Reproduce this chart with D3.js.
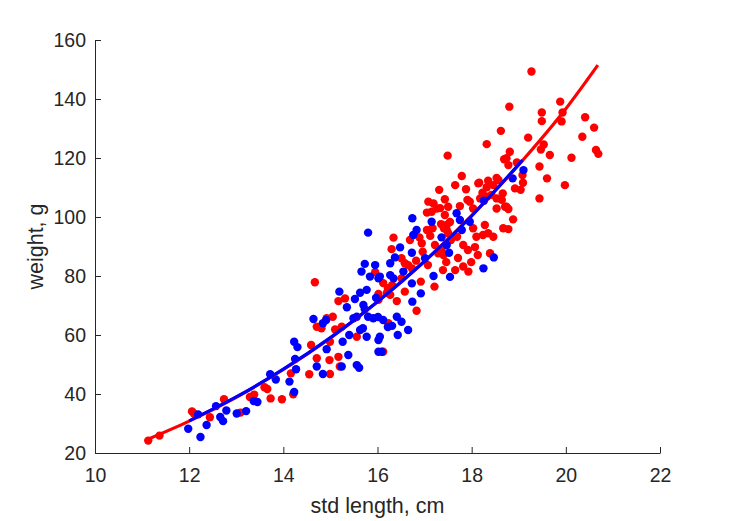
<!DOCTYPE html>
<html>
<head>
<meta charset="utf-8">
<script src="https://cdn.jsdelivr.net/npm/d3@7"></script>
<style>
  html, body { margin: 0; padding: 0; background: #fff; }
  svg { display: block; }
  text { font-family: "Liberation Sans", Arial, Helvetica, sans-serif; fill: #262626; }
</style>
</head>
<body>
<div id="chart"></div>
<script>
// ---- data (length in cm, weight in g) ----
const xTicks = [10, 12, 14, 16, 18, 20, 22];
const yTicks = [20, 40, 60, 80, 100, 120, 140, 160];
const xLabel = "std length, cm";
const yLabel = "weight, g";

const redPoints = [
  [11.13,24.2],[11.37,25.9],[12.06,34.1],[12.10,33.4],[12.44,32.1],[12.74,38.2],[13.09,33.7],[13.29,39.0],[13.38,39.8],[13.60,42.3],[13.66,41.7],[13.73,38.5],[13.97,38.2],[14.16,47.0],[14.21,39.9],
  [14.55,46.7],[14.59,56.6],[14.67,77.9],[14.71,62.8],[14.81,62.3],[14.92,65.7],[15.05,66.2],[15.10,61.9],[15.24,62.8],[15.17,71.5],[15.31,72.4],[15.56,59.4],[14.99,57.7],[14.71,52.1],[14.98,51.5],[15.17,52.6],[15.20,49.3],[14.99,46.8],
  [15.95,81.3],[16.02,73.9],[16.12,54.3],[16.41,71.5],[16.58,74.7],[16.83,68.2],[16.51,79.2],[16.92,78.1],[17.21,76.4],[16.12,77.6],[16.22,75.9],[16.31,76.9],[16.23,64.0],[16.02,71.9],[16.20,74.3],[16.27,73.6],
  [16.30,89.1],[16.34,93.0],[16.51,86.0],[16.58,84.3],[16.65,83.7],[16.82,85.2],[16.73,82.6],[16.69,92.2],[16.89,93.1],[16.94,91.1],[16.96,88.2],[17.05,95.6],[17.12,93.6],[17.22,90.5],[17.29,87.7],[17.07,83.7],
  [17.31,109.2],[17.49,120.8],[17.79,113.9],[17.65,110.8],[17.88,109.4],[17.08,105.2],[17.19,104.6],[17.26,102.9],[17.15,101.8],[17.05,101.5],[17.43,106.0],[17.50,103.5],[17.33,103.0],[17.75,103.7],[17.91,105.8],[17.96,105.2],[18.03,102.9],
  [18.16,111.6],[18.35,112.3],[18.57,112.5],[18.32,110.1],[18.46,110.8],[18.23,108.2],[18.33,106.9],[18.18,106.3],[18.42,107.5],[18.53,106.3],[18.64,105.8],[18.71,103.5],[18.78,102.7],[18.53,102.9],[18.88,99.2],[18.67,96.2],[18.78,95.9],[18.46,93.3],[18.28,97.3],[18.35,94.5],[18.03,96.2],[18.10,93.3],[18.24,93.9],[18.39,87.7],[17.69,93.3],
  [17.43,100.7],[17.54,98.3],[17.35,97.6],[17.47,95.6],[17.17,96.2],[17.41,96.2],[17.47,97.3],[17.50,94.5],[17.36,88.8],[17.40,87.1],[17.56,92.2],
  [17.82,90.5],[17.92,88.8],[18.07,89.8],[18.13,87.1],[17.93,81.5],[17.82,83.2],[17.99,84.7],[17.71,86.1],[17.65,82.0],[17.46,84.7],[17.39,82.0],
  [18.62,129.2],[18.32,124.7],[18.81,122.1],[18.74,119.9],[18.96,118.5],[18.78,117.6],[18.69,119.6],[19.27,149.3],[18.80,137.4],[19.88,139.1],[19.49,135.4],[19.49,132.5],[19.93,135.4],[19.91,132.4],[20.41,133.8],[20.60,130.3],[19.20,126.9],[20.35,127.2],[19.53,124.6],[19.47,122.9],[19.66,121.0],[20.64,122.7],[20.69,121.4],[20.12,120.1],[19.44,117.1],[19.08,114.2],[19.09,111.6],[19.04,109.2],[19.60,113.1],[19.98,110.8],[18.92,109.7],[18.66,108.0],[19.44,106.3],[18.74,103.5],[18.53,113.2],[18.14,111.4]
];

const bluePoints = [
  [11.98,28.2],[12.24,25.4],[12.19,33.1],[12.37,29.5],[12.57,35.9],[12.66,32.2],[12.72,30.8],[12.79,34.4],[13.01,33.4],[13.21,34.2],[13.37,37.6],[13.45,37.3],[13.72,46.7],[13.84,44.9],[14.13,44.2],[14.23,40.7],[14.23,57.7],[14.30,55.9],[14.25,51.9],[14.27,48.4],
  [14.64,65.4],[14.84,64.0],[14.91,65.1],[14.84,46.8],[14.92,55.2],[15.26,57.7],[14.71,49.3],[15.24,49.3],[15.38,53.2],[15.56,49.8],[15.61,48.9],[15.40,60.0],[15.63,61.7],[15.69,62.3],[15.77,59.4],[16.05,59.4],[16.02,58.3],[16.02,54.3],[16.09,54.3],
  [15.19,74.7],[15.35,69.4],[15.52,72.2],[15.63,74.3],[15.77,75.3],[15.97,72.6],[15.70,70.2],[15.73,68.7],[15.49,65.7],[15.56,66.2],[15.80,66.2],[15.91,65.7],[16.01,66.1],[16.12,65.1],[16.22,62.7],[16.31,63.1],[16.41,66.2],[16.51,64.5],[16.65,61.7],[16.43,60.0],[16.74,71.3],[16.92,74.1],
  [15.80,94.7],[15.73,84.1],[15.95,83.7],[15.66,81.5],[15.84,79.8],[16.02,79.2],[16.27,80.3],[16.34,79.2],[16.55,81.5],[16.27,84.3],[16.37,86.3],[16.48,89.7],[16.73,87.9],[17.01,86.0],[16.74,99.6],[16.83,95.6],[16.76,93.9],[17.15,98.4],[17.19,80.0],[17.54,79.7],[16.73,77.5],[17.36,93.1],[17.47,90.5],[17.52,87.9],[17.68,101.3],[17.75,99.0],[17.96,98.4],[17.79,95.6],[18.26,105.5],[18.47,86.3],[18.25,82.6],[18.87,113.1],[19.10,115.9],[16.05,79.8]
];

// fitted curves
const redCurve = [[11.1,24.5],[12,30.8],[13,38.9],[14,48.3],[15,59.0],[16,71.3],[17,85.0],[18,100.5],[19,117.7],[20,136.7],[20.68,151.5]];
const blueCurve = [[12,30.9],[13,39.0],[14,48.4],[15,59.1],[16,71.3],[17,85.0],[18,100.4],[19.08,119.3]];

// ---- layout ----
const W = 729, H = 521;
const mLeft = 95, mRight = 660, mTop = 40, mBottom = 453;
const ink = "#262626";
const tickFont = 19.5, labelFont = 21.5;

const svg = d3.select("#chart").append("svg").attr("width", W).attr("height", H);

const x = d3.scaleLinear().domain([10, 22]).range([mLeft, mRight]);
const y = d3.scaleLinear().domain([20, 160]).range([mBottom, mTop]);

// points
const r = 4.2;
svg.append("g").selectAll("circle").data(redPoints).join("circle")
  .attr("cx", d => x(d[0])).attr("cy", d => y(d[1])).attr("r", r).attr("fill", "#ff0000");
svg.append("g").selectAll("circle").data(bluePoints).join("circle")
  .attr("cx", d => x(d[0])).attr("cy", d => y(d[1])).attr("r", r).attr("fill", "#0000ff");

const line = d3.line().x(d => x(d[0])).y(d => y(d[1])).curve(d3.curveMonotoneX);
svg.append("path").datum(redCurve).attr("d", line).attr("fill", "none").attr("stroke", "#ff0000").attr("stroke-width", 3.2);
svg.append("path").datum(blueCurve).attr("d", line).attr("fill", "none").attr("stroke", "#0000ff").attr("stroke-width", 3.2);

// axes
const xAxis = svg.append("g").attr("transform", `translate(0,${mBottom})`)
  .call(d3.axisBottom(x).tickValues(xTicks).tickSizeInner(-6).tickSizeOuter(0).tickPadding(15));
const yAxis = svg.append("g").attr("transform", `translate(${mLeft},0)`)
  .call(d3.axisLeft(y).tickValues(yTicks).tickSizeInner(-6).tickSizeOuter(0).tickPadding(9));
[xAxis, yAxis].forEach(g => {
  g.select(".domain").attr("stroke", ink).attr("stroke-width", 1);
  g.selectAll(".tick line").attr("stroke", ink).attr("stroke-width", 1);
  g.selectAll(".tick text").attr("fill", ink).style("font-size", tickFont + "px")
    .style("font-family", '"Liberation Sans", Arial, Helvetica, sans-serif');
});

svg.append("text").attr("x", (mLeft + mRight) / 2).attr("y", 513)
  .attr("text-anchor", "middle").style("font-size", labelFont + "px").text(xLabel);
svg.append("text").attr("transform", `translate(43,${(mTop + mBottom) / 2}) rotate(-90)`)
  .attr("text-anchor", "middle").style("font-size", labelFont + "px").text(yLabel);
</script>
</body>
</html>
